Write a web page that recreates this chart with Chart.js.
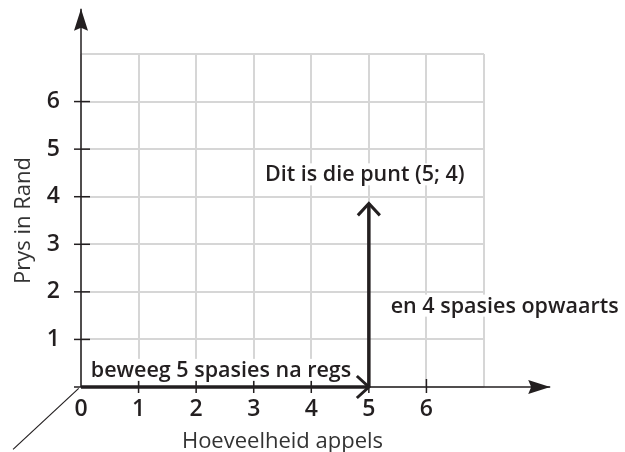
<!DOCTYPE html>
<html>
<head>
<meta charset="utf-8">
<script src="https://cdn.jsdelivr.net/npm/chart.js@4"></script>
<style>
  html, body { margin: 0; padding: 0; background: #fff; }
  #wrap { width: 625px; height: 452px; }
</style>
</head>
<body>
<div id="wrap"><canvas id="coordChart" width="625" height="452"></canvas></div>
<script>
// ---------------------------
// DATA
// ---------------------------
const xTickLabels = ["0", "1", "2", "3", "4", "5", "6"];
const yTickLabels = ["1", "2", "3", "4", "5", "6"];

// the two moves: 5 spaces right, then 4 spaces up
const moveRight = [{ x: 0, y: 0 }, { x: 5, y: 0 }];
const moveUp = [{ x: 5, y: 0 }, { x: 5, y: 3.86 }];

// axis lines with arrows, and the little pointer line at the origin
const xAxisLine = [{ x: 0, y: 0 }, { x: 8.15, y: 0 }];
const yAxisLine = [{ x: 0, y: 0 }, { x: 0, y: 7.95 }];
const pointerLine = [{ x: -0.04, y: -0.03 }, { x: -1.18, y: -1.31 }];

const notes = [
  { text: "beweeg 5 spasies na regs", x: 0.17, y: 0.36, align: "left" },
  { text: "Dit is die punt (5; 4)", x: 4.93, y: 4.47, align: "center" },
  { text: "en 4 spasies opwaarts", x: 5.38, y: 1.71, align: "left" }
];

const INK = "#231f20";
const BOLD = "600 21.5px 'Open Sans', sans-serif";

// ---------------------------
// DRAWING HELPERS
// ---------------------------
const extras = {
  id: "extras",
  beforeDatasetsDraw(chart) {
    const ctx = chart.ctx;
    const xs = chart.scales.x, ys = chart.scales.y;
    ctx.save();
    ctx.strokeStyle = INK;
    ctx.lineWidth = 1.5;
    // tick marks
    for (let v = 0; v <= 6; v++) {
      const py = ys.getPixelForValue(v);
      ctx.beginPath();
      ctx.moveTo(xs.left - 7, py);
      ctx.lineTo(xs.left + (v === 0 ? 0 : 9), py);
      ctx.stroke();
    }
    for (let v = 1; v <= 6; v++) {
      const px = xs.getPixelForValue(v);
      ctx.beginPath();
      ctx.moveTo(px, ys.bottom - 8);
      ctx.lineTo(px, ys.bottom + 6);
      ctx.stroke();
    }
    ctx.restore();
  },
  afterDatasetsDraw(chart) {
    const ctx = chart.ctx;
    const xs = chart.scales.x, ys = chart.scales.y;
    ctx.save();
    // notes
    ctx.font = BOLD;
    ctx.textBaseline = "middle";
    notes.forEach(n => {
      const px = xs.getPixelForValue(n.x), py = ys.getPixelForValue(n.y);
      const w = ctx.measureText(n.text).width;
      const left = n.align === "center" ? px - w / 2 : px;
      ctx.fillStyle = "#fff";
      ctx.fillRect(left - 2, py - 11, w + 4, 22);
      ctx.fillStyle = INK;
      ctx.textAlign = "left";
      ctx.fillText(n.text, left, py + 1);
    });
    // arrow heads
    chart.data.datasets.forEach(ds => {
      if (!ds.arrow) return;
      const a = ds.data[ds.data.length - 2], b = ds.data[ds.data.length - 1];
      const x1 = xs.getPixelForValue(a.x), y1 = ys.getPixelForValue(a.y);
      const x2 = xs.getPixelForValue(b.x), y2 = ys.getPixelForValue(b.y);
      const ang = Math.atan2(y2 - y1, x2 - x1);
      ctx.save();
      ctx.translate(x2, y2);
      ctx.rotate(ang);
      ctx.fillStyle = INK;
      ctx.strokeStyle = INK;
      if (ds.arrow === "filled") {
        ctx.beginPath();
        ctx.moveTo(0, 0);
        ctx.lineTo(-22, -7);
        ctx.lineTo(-19, 0);
        ctx.lineTo(-22, 7);
        ctx.closePath();
        ctx.fill();
      } else {
        ctx.lineWidth = 3;
        ctx.beginPath();
        ctx.moveTo(-12, -11);
        ctx.lineTo(0, 0);
        ctx.lineTo(-12, 11);
        ctx.stroke();
      }
      ctx.restore();
    });
    ctx.restore();
  }
};

// ---------------------------
// CHART
// ---------------------------
function lineSet(data, width, arrow) {
  return {
    data: data,
    showLine: true,
    borderColor: INK,
    borderWidth: width,
    pointRadius: 0,
    clip: false,
    arrow: arrow
  };
}

new Chart(document.getElementById("coordChart"), {
  type: "scatter",
  data: {
    datasets: [
      lineSet(xAxisLine, 1.5, "filled"),
      lineSet(yAxisLine, 1.5, "filled"),
      lineSet(pointerLine, 1.2, null),
      lineSet(moveRight, 3.5, "open"),
      lineSet(moveUp, 3.5, "open")
    ]
  },
  options: {
    responsive: false,
    animation: false,
    layout: { padding: { top: 54, right: 141, left: 0, bottom: 0 } },
    plugins: { legend: { display: false }, tooltip: { enabled: false } },
    scales: {
      x: {
        type: "linear",
        min: 0,
        max: 7,
        afterFit: s => { s.height = 65; },
        border: { display: false },
        grid: { color: "#d6d6d6", lineWidth: 2, drawTicks: false },
        ticks: {
          stepSize: 1,
          padding: 9,
          color: INK,
          font: { family: "'Open Sans', sans-serif", size: 23, weight: "600" },
          callback: v => xTickLabels.indexOf(String(v)) >= 0 ? String(v) : ""
        },
        title: {
          display: true,
          text: "Hoeveelheid appels",
          color: "#333",
          padding: { top: 0, bottom: -3 },
          font: { family: "'Open Sans', sans-serif", size: 22 }
        }
      },
      y: {
        type: "linear",
        min: 0,
        max: 7,
        afterFit: s => { s.width = 81; },
        border: { display: false },
        grid: { color: "#d6d6d6", lineWidth: 2, drawTicks: false },
        ticks: {
          stepSize: 1,
          padding: 21,
          color: INK,
          font: { family: "'Open Sans', sans-serif", size: 23, weight: "600" },
          callback: v => yTickLabels.indexOf(String(v)) >= 0 ? String(v) : ""
        },
        title: {
          display: true,
          text: "Prys in Rand",
          color: "#333",
          padding: { top: 11, bottom: 0 },
          font: { family: "'Open Sans', sans-serif", size: 22 }
        }
      }
    }
  },
  plugins: [extras]
});
</script>
</body>
</html>
